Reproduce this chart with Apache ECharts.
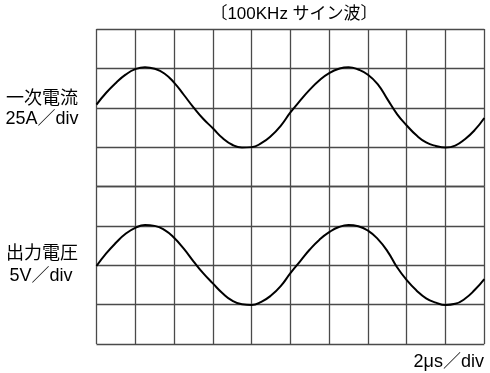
<!DOCTYPE html>
<html>
<head>
<meta charset="utf-8">
<script src="https://cdn.jsdelivr.net/npm/echarts@6/dist/echarts.min.js"></script>
<style>
  html, body { margin: 0; padding: 0; background: #fff; }
  #chart { width: 490px; height: 373px; }
</style>
</head>
<body>
<div id="chart"></div>
<script>
// time in microseconds (2 μs per division)
const timeUs = [0,0.5,1,1.5,2,2.5,3,3.5,4,4.5,5,5.5,6,6.5,7,7.5,8,8.5,9,9.5,10,
                10.5,11,11.5,12,12.5,13,13.5,14,14.5,15,15.5,16,16.5,17,17.5,18,18.5,19,19.5,20];
// primary current, in divisions (25 A/div)
const currentDiv = [0.08,0.38,0.63,0.84,0.98,1.03,0.99,0.87,0.64,0.33,0.01,-0.28,-0.52,-0.77,-0.94,-1.01,-1.00,-0.90,-0.72,-0.46,-0.12,
                    0.18,0.46,0.70,0.88,0.99,1.03,0.97,0.84,0.60,0.22,-0.16,-0.45,-0.70,-0.88,-0.97,-1.01,-0.96,-0.80,-0.57,-0.26];
// output voltage, in divisions (5 V/div)
const voltageDiv = [-0.02,0.30,0.57,0.80,0.95,1.02,1.00,0.90,0.70,0.42,0.10,-0.20,-0.46,-0.71,-0.90,-0.99,-1.01,-0.93,-0.77,-0.53,-0.20,
                    0.10,0.40,0.65,0.84,0.97,1.02,0.99,0.88,0.67,0.36,-0.05,-0.38,-0.64,-0.84,-0.95,-1.01,-0.98,-0.85,-0.63,-0.35];

const titleText = '〔100KHz サイン波〕';
const currentLabel = ['一次電流', '25A／div'];
const voltageLabel = ['出力電圧', '5V／div'];
const timeLabel = '2μs／div';

const FONT = '"Liberation Sans", Arial, "Noto Sans CJK JP", sans-serif';
const gridColor = '#4a4a4a';

function xAx(gi) {
  return {
    type: 'value', gridIndex: gi, min: 0, max: 20, interval: 2,
    axisLine: { show: false }, axisTick: { show: false }, axisLabel: { show: false },
    splitLine: { show: true, lineStyle: { color: gridColor, width: 1.3 } }
  };
}
function yAx(gi) {
  return {
    type: 'value', gridIndex: gi, min: -2, max: 2, interval: 1,
    axisLine: { show: false }, axisTick: { show: false }, axisLabel: { show: false },
    splitLine: { show: true, lineStyle: { color: gridColor, width: 1.3 } }
  };
}

function label(text, x, y, size, align) {
  return { type: 'text', x: x, y: y, style: { text: text, textAlign: align || 'center', textVerticalAlign: 'middle', font: size + 'px ' + FONT, fill: '#000' } };
}

const chart = echarts.init(document.getElementById('chart'), null, { renderer: 'canvas' });
chart.setOption({
  animation: false,
  backgroundColor: '#fff',
  grid: [
    { left: 96.5, right: 5.7, top: 29, height: 157.5 },
    { left: 96.5, right: 5.7, top: 186.5, height: 157.5 }
  ],
  xAxis: [xAx(0), xAx(1)],
  yAxis: [yAx(0), yAx(1)],
  series: [
    {
      type: 'line', xAxisIndex: 0, yAxisIndex: 0, smooth: 0.5, showSymbol: false,
      lineStyle: { color: '#000', width: 2 },
      data: timeUs.map((t, i) => [t, currentDiv[i]])
    },
    {
      type: 'line', xAxisIndex: 1, yAxisIndex: 1, smooth: 0.5, showSymbol: false,
      lineStyle: { color: '#000', width: 2 },
      data: timeUs.map((t, i) => [t, voltageDiv[i]])
    }
  ],
  graphic: [
    label(titleText, 294, 14, 17),
    label(currentLabel[0], 42, 99, 18),
    label(currentLabel[1], 42, 119, 18),
    label(voltageLabel[0], 42, 254, 18),
    label(voltageLabel[1], 41, 276, 18),
    label(timeLabel, 484, 362, 18, 'right')
  ]
});
</script>
</body>
</html>
